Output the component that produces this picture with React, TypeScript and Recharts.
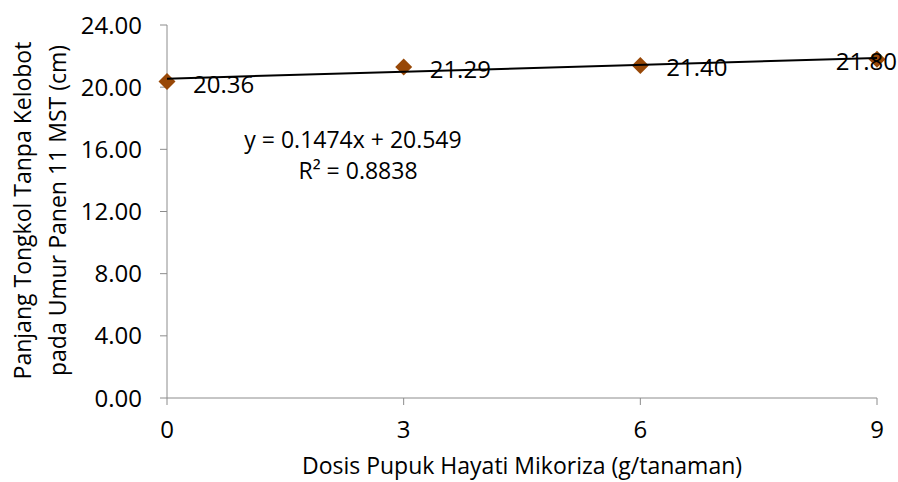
import { ComposedChart, Scatter, XAxis, YAxis } from "recharts";

const doses = [0, 3, 6, 9];
const lengths = [20.36, 21.29, 21.4, 21.8];
const yTicks = [0, 4, 8, 12, 16, 20, 24];
// trendline endpoints read from y = 0.1474x + 20.549
const trendX = [0, 9];
const trendY = [20.549, 21.876];

const points = doses.map((x, i) => ({ x, y: lengths[i] }));
const trend = trendX.map((x, i) => ({ x, y: trendY[i] }));

const FONT = "'Open Sans', sans-serif";
const AXIS = "#8c8c8c";
const BROWN = "#984807";
const W = 898;
const H = 482;

function Diamond(props: any) {
  const { cx, cy, payload } = props;
  const r = 8.5;
  const text = payload.y.toFixed(2);
  const overflow = cx + 26 + 62 > W;
  return (
    <g>
      <polygon
        points={`${cx},${cy - r} ${cx + r},${cy} ${cx},${cy + r} ${cx - r},${cy}`}
        fill={BROWN}
      />
      <text
        x={overflow ? W - 1 : cx + 26}
        y={cy + 1.5}
        textAnchor={overflow ? "end" : "start"}
        dominantBaseline="central"
        fontFamily={FONT}
        fontSize={24}
        fill="#000"
      >
        {text}
      </text>
    </g>
  );
}

function YTitle(props: any) {
  const { viewBox } = props;
  const cy = viewBox.y + viewBox.height / 2 - 1;
  return (
    <g fontFamily={FONT} fontSize={23} fill="#000">
      <text x={22} y={cy} textAnchor="middle" dominantBaseline="central" transform={`rotate(-90 22 ${cy})`}>
        Panjang Tongkol Tanpa Kelobot
      </text>
      <text x={57} y={cy} textAnchor="middle" dominantBaseline="central" transform={`rotate(-90 57 ${cy})`}>
        pada Umur Panen 11 MST (cm)
      </text>
    </g>
  );
}

export default function App() {
  return (
    <div style={{ position: "absolute", left: 0, top: 0, width: W, height: H, background: "#fff" }}>
      <ComposedChart width={W} height={H} margin={{ top: 25, right: 21, left: 87, bottom: 44 }}>
        <XAxis
          type="number"
          dataKey="x"
          domain={[0, 9]}
          ticks={doses}
          interval={0}
          stroke={AXIS}
          tickSize={7}
          tickMargin={16}
          height={40}
          tick={{ fill: "#000", fontSize: 24, fontFamily: FONT }}
          label={{
            value: "Dosis Pupuk Hayati Mikoriza (g/tanaman)",
            position: "insideBottom",
            offset: -36,
            fill: "#000",
            fontSize: 23,
            fontFamily: FONT,
          }}
        />
        <YAxis
          type="number"
          dataKey="y"
          domain={[0, 24]}
          ticks={yTicks}
          interval={0}
          stroke={AXIS}
          tickSize={7}
          tickMargin={18}
          width={80}
          tickFormatter={(v: number) => v.toFixed(2)}
          tick={{ fill: "#000", fontSize: 24, fontFamily: FONT }}
          label={<YTitle />}
        />
        <Scatter data={points} shape={<Diamond />} isAnimationActive={false} />
        <Scatter
          data={trend}
          line={{ stroke: "#000", strokeWidth: 2 }}
          shape={() => <g />}
          isAnimationActive={false}
        />
      </ComposedChart>
      <div
        style={{
          position: "absolute",
          left: 353,
          top: 124,
          transform: "translateX(-50%)",
          textAlign: "center",
          fontFamily: FONT,
          fontSize: 23,
          lineHeight: "31px",
          whiteSpace: "nowrap",
          color: "#000",
        }}
      >
        <div>y = 0.1474x + 20.549</div>
        <div style={{ marginLeft: 10 }}>R² = 0.8838</div>
      </div>
    </div>
  );
}
